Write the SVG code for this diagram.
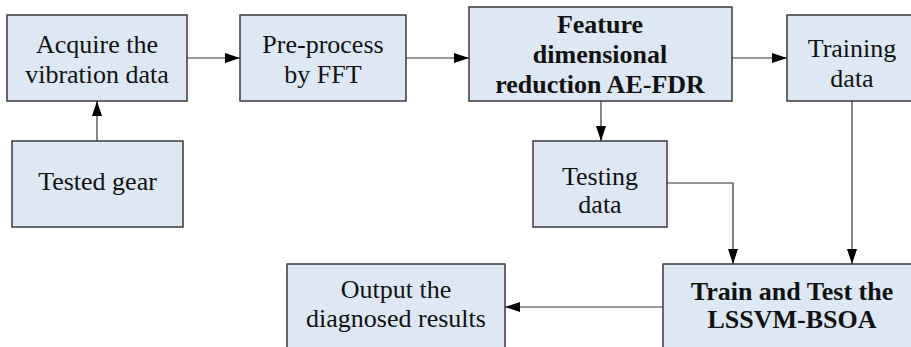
<svg xmlns="http://www.w3.org/2000/svg" width="911" height="347" viewBox="0 0 911 347">
  <style>
    .box { fill: #dde8f4; stroke: #3a3a3a; stroke-width: 1.5; }
    .t { font-family: 'Liberation Serif', 'DejaVu Serif', serif; font-size: 26px; fill: #111; text-anchor: middle; }
    .b { font-weight: bold; }
    .c { fill: none; stroke: #333; stroke-width: 1.2; }
  </style>
  <defs>
    <marker id="ah" markerUnits="userSpaceOnUse" markerWidth="16" markerHeight="11" refX="15" refY="5" orient="auto">
      <path d="M0,0 L15,5 L0,10 z" fill="#000"/>
    </marker>
  </defs>
  <rect width="911" height="347" fill="#fff"/>

  <g id="acquire">
    <rect class="box" x="7" y="15" width="180" height="86"/>
    <text class="t" font-family="Liberation Serif, serif" x="97" y="53">Acquire the</text>
    <text class="t" font-family="Liberation Serif, serif" x="97" y="83">vibration data</text>
  </g>
  <g id="preprocess">
    <rect class="box" x="240" y="15" width="166" height="86"/>
    <text class="t" font-family="Liberation Serif, serif" x="323" y="53">Pre-process</text>
    <text class="t" font-family="Liberation Serif, serif" x="323" y="83">by FFT</text>
  </g>
  <g id="aefdr">
    <rect class="box" x="469" y="7" width="263" height="94"/>
    <text class="t b" font-family="Liberation Serif, serif" x="600" y="33">Feature</text>
    <text class="t b" font-family="Liberation Serif, serif" x="600" y="63">dimensional</text>
    <text class="t b" font-family="Liberation Serif, serif" x="600" y="93">reduction AE-FDR</text>
  </g>
  <g id="training">
    <rect class="box" x="787" y="15" width="132" height="86"/>
    <text class="t" font-family="Liberation Serif, serif" x="852" y="57">Training</text>
    <text class="t" font-family="Liberation Serif, serif" x="852" y="87">data</text>
  </g>
  <g id="tested">
    <rect class="box" x="12" y="141" width="171" height="86"/>
    <text class="t" font-family="Liberation Serif, serif" x="97.5" y="190">Tested gear</text>
  </g>
  <g id="testing">
    <rect class="box" x="533" y="141" width="134" height="86"/>
    <text class="t" font-family="Liberation Serif, serif" x="600" y="185">Testing</text>
    <text class="t" font-family="Liberation Serif, serif" x="600" y="213">data</text>
  </g>
  <g id="output">
    <rect class="box" x="287" y="264" width="218" height="100"/>
    <text class="t" font-family="Liberation Serif, serif" x="396" y="298">Output the</text>
    <text class="t" font-family="Liberation Serif, serif" x="396" y="327">diagnosed results</text>
  </g>
  <g id="lssvm">
    <rect class="box" x="663" y="264" width="260" height="100"/>
    <text class="t b" font-family="Liberation Serif, serif" x="792" y="300">Train and Test the</text>
    <text class="t b" font-family="Liberation Serif, serif" x="792" y="328">LSSVM-BSOA</text>
  </g>

  <g id="connectors">
    <path class="c" d="M187,58 H240" marker-end="url(#ah)"/>
    <path class="c" d="M406,58 H469" marker-end="url(#ah)"/>
    <path class="c" d="M732,58 H787" marker-end="url(#ah)"/>
    <path class="c" d="M97,141 V101" marker-end="url(#ah)"/>
    <path class="c" d="M601,101 V141" marker-end="url(#ah)"/>
    <path class="c" d="M667,183 H733 V264" marker-end="url(#ah)"/>
    <path class="c" d="M852,101 V264" marker-end="url(#ah)"/>
    <path class="c" d="M663,307 H505" marker-end="url(#ah)"/>
  </g>
</svg>
